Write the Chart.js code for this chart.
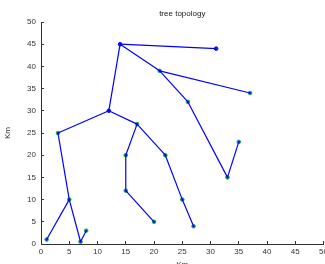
<!DOCTYPE html>
<html>
<head>
<meta charset="utf-8">
<script src="https://cdn.jsdelivr.net/npm/chart.js@4"></script>
<style>
  html, body { margin: 0; padding: 0; background: #fff; overflow: hidden; }
  #wrap { width: 334px; height: 270px; }
</style>
</head>
<body>
<div id="wrap"><canvas id="tree-chart"></canvas></div>
<script>
// node positions (Km)
var nodeX = [1, 5, 7, 8, 3, 12, 14, 31, 21, 37, 26, 33, 35, 17, 15, 15, 20, 22, 25, 27];
var nodeY = [1, 10, 0.5, 3, 25, 30, 45, 44, 39, 34, 32, 15, 23, 27, 20, 12, 5, 20, 10, 4];
// tree links, by node index
var edgeFrom = [0, 1, 1, 2, 4, 5, 6, 6, 8, 8, 10, 11, 5, 13, 14, 15, 13, 17, 18];
var edgeTo   = [1, 4, 2, 3, 5, 6, 7, 8, 9, 10, 11, 12, 13, 14, 15, 16, 17, 18, 19];
// nodes drawn in blue only
var blueNodes = [5, 6, 7];
var xTicks = [0, 5, 10, 15, 20, 25, 30, 35, 40, 45, 50];
var yTicks = [0, 5, 10, 15, 20, 25, 30, 35, 40, 45, 50];

var font = { family: 'Liberation Sans, Arial, sans-serif', size: 8 };

var datasets = edgeFrom.map(function (a, i) {
    var b = edgeTo[i];
    return {
        data: [{ x: nodeX[a], y: nodeY[a] }, { x: nodeX[b], y: nodeY[b] }],
        showLine: true,
        borderColor: '#0000ff',
        borderWidth: 1.2,
        pointRadius: 0
    };
});

datasets.push({
    data: nodeX.map(function (x, i) { return { x: x, y: nodeY[i] }; }),
    showLine: false,
    pointRadius: 1.8,
    borderWidth: 1,
    pointBorderColor: nodeX.map(function (x, i) { return blueNodes.indexOf(i) >= 0 ? '#0000ff' : '#22b022'; }),
    pointBackgroundColor: '#1030e0'
});

var canvas = document.getElementById('tree-chart');
var treeChart = new Chart(canvas, {
    type: 'scatter',
    data: { datasets: datasets },
    options: {
        responsive: true,
        maintainAspectRatio: false,
        animation: false,
        layout: { padding: { left: 3, right: 4, top: 0, bottom: 0 } },
        plugins: { legend: { display: false }, tooltip: { enabled: false } },
        scales: {
            x: {
                type: 'linear', min: 0, max: 50,
                afterBuildTicks: function (s) { s.ticks = xTicks.map(function (v) { return { value: v }; }); },
                afterFit: function (s) { s.height = 26; },
                grid: { drawOnChartArea: false, tickLength: -3, color: '#333' },
                border: { color: '#333', width: 1 },
                ticks: { color: '#333', font: font, padding: 6, maxRotation: 0 },
                title: { display: true, text: 'Km', color: '#333', font: font, padding: { top: 0, bottom: 0 } }
            },
            x2: {
                type: 'linear', position: 'top', min: 0, max: 50,
                afterFit: function (s) { s.height = 22; },
                grid: { display: false },
                border: { display: false },
                ticks: { display: false },
                title: { display: true, text: 'tree topology', color: '#222', font: font, padding: { top: 9, bottom: 0 } }
            },
            y: {
                type: 'linear', min: 0, max: 50,
                afterBuildTicks: function (s) { s.ticks = yTicks.map(function (v) { return { value: v }; }); },
                afterFit: function (s) { s.width = 38; },
                grid: { drawOnChartArea: false, tickLength: -3, color: '#333' },
                border: { color: '#333', width: 1 },
                ticks: { color: '#333', font: font, padding: 8 },
                title: { display: true, text: 'Km', color: '#333', font: font, padding: { top: 0, bottom: 0 } }
            }
        }
    }
});
</script>
</body>
</html>
